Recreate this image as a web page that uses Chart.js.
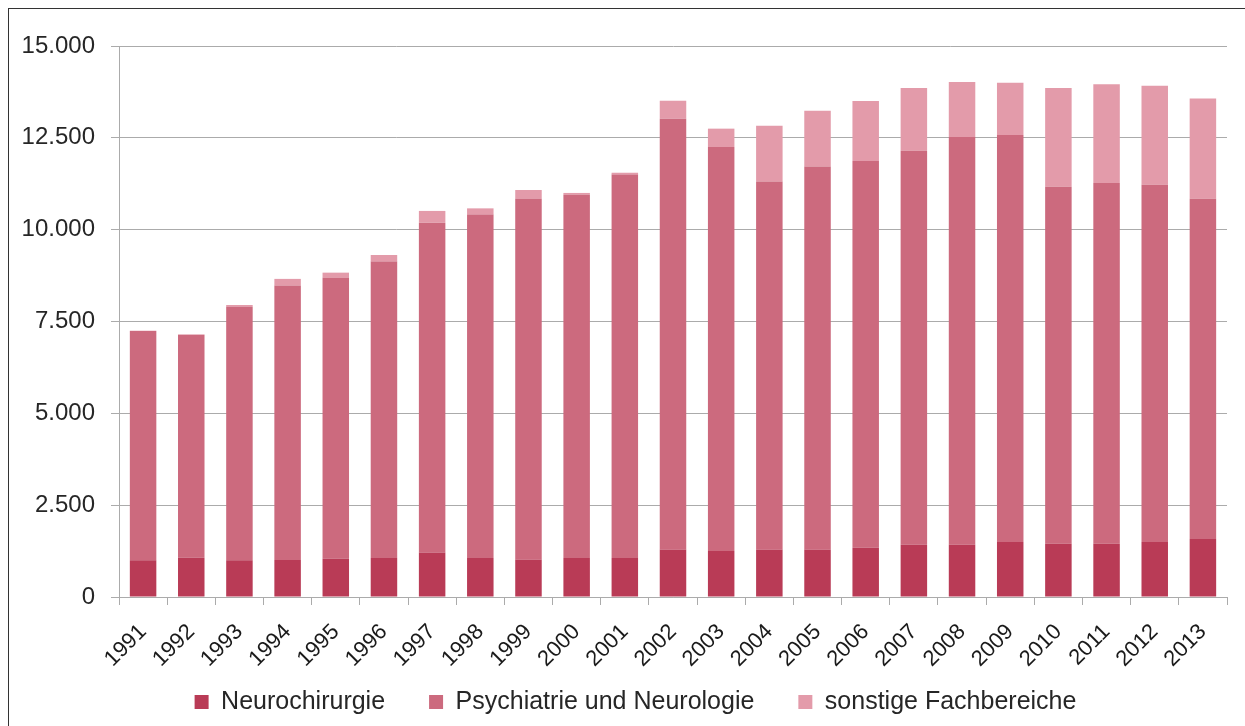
<!DOCTYPE html>
<html>
<head>
<meta charset="utf-8">
<script src="https://cdn.jsdelivr.net/npm/chart.js@4/dist/chart.umd.min.js"></script>
<style>
  html, body { margin: 0; padding: 0; background: #fff; overflow: hidden; }
  #wrap { position: absolute; left: 0; top: 0; width: 1245px; height: 726px; }
  #frame { position: absolute; left: 8px; top: 8px; width: 1300px; height: 800px;
           border-left: 1px solid #333; border-top: 1px solid #333; pointer-events: none; }
</style>
</head>
<body>
<div id="wrap">
  <canvas id="c" width="1245" height="726"></canvas>
  <div id="frame"></div>
</div>
<script>
const years = ['1991','1992','1993','1994','1995','1996','1997','1998','1999','2000','2001','2002',
               '2003','2004','2005','2006','2007','2008','2009','2010','2011','2012','2013'];
const neurochirurgie = [1000,1070,1000,1010,1040,1060,1210,1060,1020,1060,1060,1290,
                        1250,1290,1290,1340,1420,1420,1500,1450,1450,1500,1580];
const psychiatrieNeurologie = [6240,6070,6900,7470,7650,8070,8980,9350,9820,9890,10440,11730,
                               11000,10020,10430,10530,10730,11100,11080,9720,9820,9720,9260];
const sonstigeFachbereiche = [10,10,50,180,140,180,320,170,240,50,50,490,
                              500,1520,1520,1630,1710,1500,1420,2690,2690,2700,2730];
const seriesNames = ['Neurochirurgie','Psychiatrie und Neurologie','sonstige Fachbereiche'];
const yTicks = [0,2500,5000,7500,10000,12500,15000];

const fmt = v => String(v).replace(/\B(?=(\d{3})+(?!\d))/g, '.');
const FONT = "'Liberation Sans', Arial, sans-serif";
const GRID = '#ababab';

const layoutTweak = {
  id: 'layoutTweak',
  afterLayout(chart) {
    if (chart.legend) { chart.legend.left += 22; chart.legend.right += 22; }
    // let rotated year labels extend into the blank band above the legend items
    if (chart.scales.x) { chart.scales.x.bottom = chart.height; }
  }
};

new Chart(document.getElementById('c'), {
  type: 'bar',
  data: {
    labels: years,
    datasets: [
      { label: seriesNames[0], data: neurochirurgie, backgroundColor: '#b93b56' },
      { label: seriesNames[1], data: psychiatrieNeurologie, backgroundColor: '#cc6a7e' },
      { label: seriesNames[2], data: sonstigeFachbereiche, backgroundColor: '#e39baa' }
    ]
  },
  plugins: [layoutTweak],
  options: {
    responsive: false,
    animation: false,
    layout: { padding: { top: 46, right: 18, left: 0, bottom: 1.5 } },
    datasets: { bar: { barPercentage: 0.55, categoryPercentage: 1.0, borderWidth: 0 } },
    plugins: {
      tooltip: { enabled: false },
      legend: {
        position: 'bottom',
        labels: {
          font: { family: FONT, size: 25 },
          color: '#262626',
          boxWidth: 14, boxHeight: 14,
          padding: 44
        }
      }
    },
    scales: {
      x: {
        stacked: true,
        afterFit: s => { s.height = 48.5; },
        grid: { drawOnChartArea: false, drawTicks: true, tickLength: 8, color: GRID, offset: true },
        border: { color: GRID, width: 1 },
        ticks: { font: { family: FONT, size: 22 }, color: '#1a1a1a', maxRotation: 45, minRotation: 45, padding: 14 }
      },
      y: {
        stacked: true,
        min: 0, max: 15000,
        afterFit: s => { s.width = 119; },
        afterBuildTicks: s => { s.ticks = yTicks.map(v => ({ value: v })); },
        grid: { color: GRID, lineWidth: 1, tickLength: 8 },
        border: { color: GRID, width: 1 },
        ticks: { font: { family: FONT, size: 24 }, color: '#262626', padding: 16, callback: v => fmt(v) }
      }
    }
  }
});
</script>
</body>
</html>
